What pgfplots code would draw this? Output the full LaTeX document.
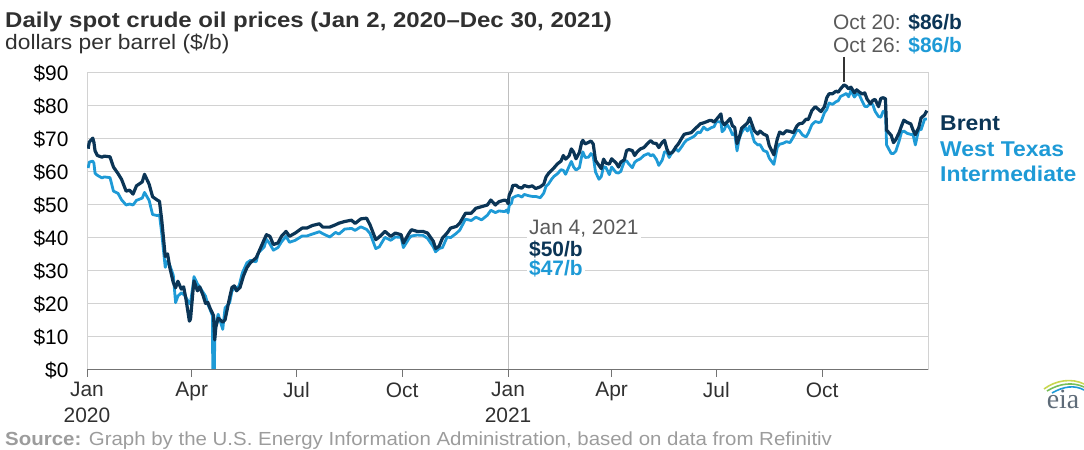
\documentclass[border=0pt]{standalone}
\usepackage{pgfplots}
\usepackage{pgfplotstable}
\pgfplotsset{compat=1.18}
\usepackage{fontspec}
\setmainfont{Liberation Sans}
\newfontfamily\seriffont{Liberation Serif}
\definecolor{brent}{HTML}{0B3556}
\definecolor{wti}{HTML}{1E9AD6}
\definecolor{gridc}{HTML}{D2D2D2}
\definecolor{txt}{HTML}{303030}
\definecolor{ann}{HTML}{5A5A5A}
\definecolor{src}{HTML}{9C9C9C}
\definecolor{eiagray}{HTML}{5E6B78}

\pgfplotstableread{
day price
1 67.05
2 69.08
5 70.25
6 69.0
7 66.4
9 65.0
13 64.5
15 64.8
20 64.6
23 61.5
27 59.5
30 57.8
34 54.2
37 54.5
40 53.3
43 55.8
48 57.0
50 59.3
54 56.3
57 52.5
61 51.5
63 51.1
65 45.3
68 34.4
70 35.2
72 31.0
75 26.5
77 24.9
79 26.9
82 24.5
84 25.2
86 21.5
89 14.8
90 15.5
92 23.5
93 27.0
96 24.0
98 25.2
101 22.5
103 20.2
105 20.5
107 18.7
110 16.5
111 9.1
112 13.0
114 15.7
118 14.5
120 15.2
124 22.0
126 25.0
128 25.5
130 24.0
133 25.0
136 28.5
139 31.0
142 32.5
147 34.0
149 35.5
154 39.5
156 41.0
159 40.5
162 38.0
166 38.5
169 40.5
173 42.0
176 40.5
181 41.5
187 43.0
191 43.0
196 43.8
202 44.3
205 43.3
211 43.3
216 44.0
219 44.5
224 45.0
230 45.4
233 44.4
238 45.8
243 46.0
246 44.0
251 39.5
254 40.3
259 42.0
264 40.5
268 41.5
273 41.0
275 38.5
280 41.5
282 42.5
287 42.0
292 42.0
296 41.5
301 39.0
303 36.8
306 37.5
309 40.0
313 41.5
316 43.0
321 43.5
324 44.5
329 47.5
334 47.5
338 49.0
343 49.5
348 50.0
351 51.5
355 50.0
358 51.0
363 51.5
365 51.2
366 50.4
367 53.0
369 54.4
370 55.9
373 56.0
375 55.4
378 55.1
380 55.9
384 55.5
387 55.8
390 55.0
394 55.5
397 56.3
399 58.5
401 59.5
404 60.6
406 61.3
409 62.5
412 63.3
414 65.0
416 63.9
419 64.9
421 67.0
423 66.0
425 64.0
428 65.9
430 69.0
431 69.6
433 68.5
436 69.0
438 69.4
440 68.5
442 63.5
445 62.0
447 61.0
449 63.9
451 62.7
454 62.4
456 64.0
460 62.7
462 61.5
464 63.0
467 63.7
469 66.5
471 66.8
474 66.5
476 65.0
478 66.0
481 67.0
484 67.4
488 68.9
490 69.5
492 68.8
495 68.6
497 67.4
500 69.0
502 69.6
504 67.0
506 65.5
509 66.0
512 67.7
514 68.5
517 70.3
519 71.4
521 71.6
525 71.9
528 72.9
531 73.9
533 74.6
536 74.9
539 75.3
541 75.6
543 75.6
545 75.1
547 75.9
551 77.6
552 75.3
554 74.3
556 75.0
559 76.2
561 74.0
563 73.5
565 68.6
567 70.5
569 73.3
572 74.2
574 74.8
576 76.4
580 72.5
583 71.5
585 72.4
588 71.5
591 71.0
593 68.0
597 65.2
600 70.0
602 72.1
605 71.5
608 72.5
611 72.3
614 71.9
617 73.9
619 74.6
622 74.8
625 76.0
627 75.9
630 78.6
633 79.8
636 78.9
638 78.3
641 79.8
643 82.5
645 83.7
648 83.7
651 84.5
653 84.2
655 85.2
658 86.4
660 86.0
662 85.2
664 85.7
667 84.0
669 84.9
671 84.3
674 83.6
676 84.0
678 82.1
681 80.7
683 81.7
685 82.0
688 79.8
690 82.3
692 82.5
694 82.2
695 72.7
699 71.1
701 68.9
703 69.8
706 72.0
708 74.0
710 75.7
713 75.0
716 74.6
718 72.7
720 71.3
723 73.5
725 76.4
728 77.3
730 78.6
}\brentdata

\pgfplotstableread{
day price
1 61.2
2 63.0
5 63.3
6 62.7
7 59.6
9 59.0
13 58.2
15 58.5
20 58.3
23 54.2
27 53.5
30 51.6
34 50.0
37 50.3
40 50.0
43 51.4
48 52.1
50 53.8
54 51.4
57 47.1
61 46.8
63 47.0
65 41.3
68 31.1
70 33.0
72 31.7
75 28.7
77 20.4
79 22.4
82 23.4
85 22.6
89 20.1
90 20.5
92 25.3
93 28.3
96 26.1
98 25.1
103 22.4
105 19.9
107 18.3
109 16.5
110 -37.6
111 10.0
112 13.8
114 16.9
118 12.3
120 18.8
124 20.4
126 23.9
128 24.7
132 25.3
135 29.4
139 32.5
142 33.2
147 32.8
149 35.5
154 37.3
156 39.6
159 38.2
162 36.3
166 37.1
169 38.8
173 40.5
176 38.7
181 39.3
187 40.6
191 40.6
196 41.2
202 41.9
205 41.3
211 40.3
216 41.7
219 41.2
224 42.7
230 42.9
233 42.3
238 43.4
243 42.6
246 41.4
251 36.8
254 37.3
259 40.2
264 39.3
268 40.3
273 40.2
275 37.1
280 39.9
282 40.6
287 40.9
292 40.8
296 39.9
301 37.3
303 35.8
306 36.8
309 37.1
313 40.3
316 40.1
321 41.4
324 42.4
329 45.7
334 45.3
338 46.3
343 45.5
348 46.9
351 48.4
355 47.7
358 48.2
363 48.0
365 48.5
366 47.6
367 49.9
369 50.6
370 52.2
373 52.7
375 52.9
378 52.4
380 53.2
384 52.8
387 52.6
390 52.6
394 52.2
397 53.6
399 55.7
401 56.3
404 57.9
406 58.7
409 59.5
412 60.7
414 60.5
416 59.3
419 61.7
421 63.2
423 61.5
425 60.6
428 61.3
430 64.8
431 66.1
433 64.4
436 64.5
438 65.6
440 64.8
442 60.0
445 57.8
447 58.6
449 61.6
451 61.4
454 59.2
456 61.5
460 59.8
462 59.7
464 60.2
467 63.2
469 63.4
471 62.4
474 61.3
476 62.9
478 63.5
481 64.0
484 65.0
488 65.6
490 64.9
492 65.3
495 63.8
497 62.0
500 63.6
502 66.1
504 66.1
506 64.4
509 66.2
512 66.9
514 66.3
517 67.7
519 68.8
521 69.6
525 70.3
528 70.9
531 72.1
533 71.9
536 73.6
539 72.7
541 73.1
543 73.5
545 73.7
547 75.2
551 75.2
552 72.2
554 72.9
556 74.6
559 73.0
561 71.3
563 71.7
565 66.4
567 70.3
569 72.0
572 73.7
574 72.4
576 73.9
580 69.2
583 68.2
585 68.3
588 66.5
591 66.1
593 64.2
597 62.3
600 67.5
602 68.4
605 68.7
608 69.2
611 68.9
614 70.6
617 72.6
619 72.6
622 71.2
625 70.6
627 71.8
630 74.3
633 75.3
636 75.0
638 75.2
641 78.0
643 78.9
645 80.9
648 80.5
651 81.3
653 81.6
655 82.9
658 83.4
660 83.8
662 82.8
664 84.7
667 82.7
669 83.6
671 83.6
674 81.3
676 79.9
678 79.8
681 80.8
683 80.4
685 78.4
688 76.8
690 76.6
692 78.4
694 78.4
695 68.2
699 65.6
701 65.6
703 66.3
706 69.5
708 72.1
710 72.4
713 71.7
716 71.4
718 71.3
720 68.2
723 73.0
725 72.8
728 76.0
730 76.1
}\wtidata

\begin{document}
\begin{tikzpicture}[x=1bp,y=1bp]
\useasboundingbox (0,0) rectangle (1084,450);
\begin{axis}[
  at={(87bp,80bp)}, anchor=south west,
  scale only axis, width=841bp, height=297bp,
  xmin=0, xmax=731, ymin=0, ymax=90,
  axis line style={draw=gridc, line width=1bp},
  xtick={0,91,182,274,366,456,547,639},
  xticklabels={Jan\\2020,Apr,Jul,Oct,Jan\\2021,Apr,Jul,Oct},
  xtick pos=bottom,
  tick align=outside,
  major tick length=7bp,
  x tick style={draw=black!55, line width=1bp},
  xticklabel style={align=center, font=\fontsize{21}{26}\selectfont, text=txt, yshift=-2bp},
  ytick={0,10,...,90},
  yticklabels={\$0,\$10,\$20,\$30,\$40,\$50,\$60,\$70,\$80,\$90},
  ytick style={draw=none},
  yticklabel style={font=\fontsize{21}{25}\selectfont, text=black, xshift=-8bp},
  ymajorgrids, grid style={draw=gridc, line width=1bp},
  clip=true,
]
\draw[draw=black!25, line width=1bp] (axis cs:366,0) -- (axis cs:366,90);
\addplot[wti, line width=2.8bp, line join=round] table[x=day,y=price] {\wtidata};
\addplot[brent, line width=3.2bp, line join=round] table[x=day,y=price] {\brentdata};
\draw[draw=black!55, line width=1.3bp] (axis cs:0,0) -- (axis cs:731,0);
\end{axis}
% title
\node[anchor=base west, inner sep=0, font=\bfseries\fontsize{21.5}{25}\selectfont, text=txt] at (5,422) {\scalebox{1.12}[1]{Daily spot crude oil prices (Jan 2, 2020–Dec 30, 2021)}};
\node[anchor=base west, inner sep=0, font=\fontsize{21}{25}\selectfont, text=txt] at (5,400) {\scalebox{1.09}[1]{dollars per barrel (\$/b)}};
% right labels
\node[anchor=base west, inner sep=0, font=\bfseries\fontsize{21.5}{25}\selectfont, text=brent] at (940,319) {\scalebox{1.07}[1]{Brent}};
\node[anchor=base west, inner sep=0, font=\bfseries\fontsize{21.5}{25}\selectfont, text=wti] at (940,293) {\scalebox{1.07}[1]{West Texas}};
\node[anchor=base west, inner sep=0, font=\bfseries\fontsize{21.5}{25}\selectfont, text=wti] at (940,268) {\scalebox{1.07}[1]{Intermediate}};
% top annotation
\node[anchor=base west, inner sep=0, font=\fontsize{21}{25}\selectfont, text=ann] at (833,420) {Oct 20: {\bfseries\color{brent}\$86/b}};
\node[anchor=base west, inner sep=0, font=\fontsize{21}{25}\selectfont, text=ann] at (833,397) {Oct 26: {\bfseries\color{wti}\$86/b}};
\draw[black!80, line width=1.3bp] (844,393) -- (844,368);
% Jan 4 annotation
\node[anchor=base west, inner sep=2bp, fill=white, font=\fontsize{21}{25}\selectfont, text=ann] at (527,215) {Jan 4, 2021};
\node[anchor=base west, inner sep=2bp, fill=white, font=\bfseries\fontsize{21}{25}\selectfont, text=brent] at (527,193) {\$50/b};
\node[anchor=base west, inner sep=2bp, fill=white, font=\bfseries\fontsize{21}{25}\selectfont, text=wti] at (527,174) {\$47/b};
% source
\node[anchor=base west, inner sep=0, font=\fontsize{19}{22}\selectfont, text=src] at (5,4) {\scalebox{1.08}[1]{{\bfseries Source:} Graph by the U.S. Energy Information Administration, based on data from Refinitiv}};
% eia logo
\node[anchor=base, inner sep=0, font=\seriffont\fontsize{28}{30}\selectfont, text=eiagray] at (1063,41) {eia};
\draw[line width=1.6bp, color={rgb,255:red,200;green,215;blue,80}] (1044,61) .. controls (1056,70) and (1072,72) .. (1084,66);
\draw[line width=1.6bp, color={rgb,255:red,120;green,190;blue,90}] (1047,59) .. controls (1060,67) and (1073,68) .. (1084,63);
\draw[line width=1.6bp, color=wti] (1052,57) .. controls (1064,64) and (1075,65) .. (1084,60);
\end{tikzpicture}
\end{document}
